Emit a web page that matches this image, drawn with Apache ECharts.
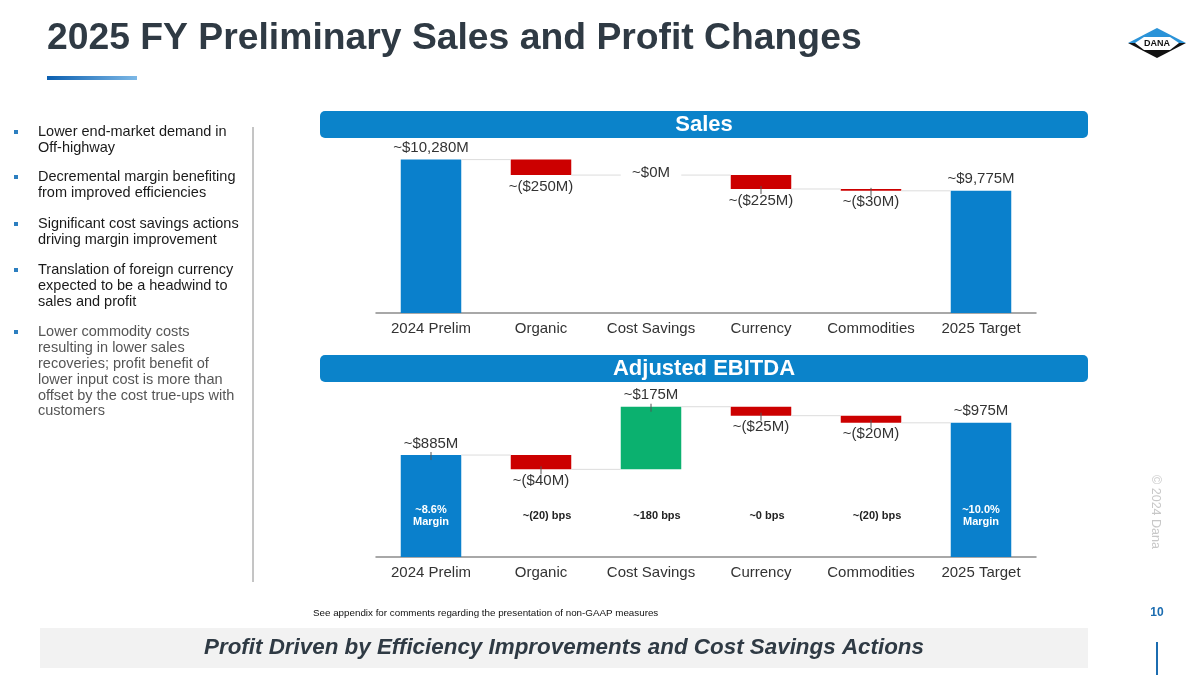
<!DOCTYPE html>
<html>
<head>
<meta charset="utf-8">
<script src="https://cdn.jsdelivr.net/npm/echarts@6/dist/echarts.min.js"></script>
<style>
  html, body { margin: 0; padding: 0; background: #fff; }
  #main { width: 1200px; height: 675px; }
</style>
</head>
<body>
<div id="main"></div>
<script>
const FONT = '"Liberation Sans", Arial, sans-serif';

const categories = ['2024 Prelim', 'Organic', 'Cost Savings', 'Currency', 'Commodities', '2025 Target'];

// first and last are totals, the rest are changes
const salesSteps = [10280, -250, 0, -225, -30, 9775];
const salesLabels = ['~$10,280M', '~($250M)', '~$0M', '~($225M)', '~($30M)', '~$9,775M'];
const salesTicks = [0, 0, 0, 1, 1, 0];

const ebitdaSteps = [885, -40, 175, -25, -20, 975];
const ebitdaLabels = ['~$885M', '~($40M)', '~$175M', '~($25M)', '~($20M)', '~$975M'];
const ebitdaNotes = ['~8.6%\nMargin', '~(20) bps', '~180 bps', '~0 bps', '~(20) bps', '~10.0%\nMargin'];
const ebitdaTicks = [1, 1, 1, 1, 1, 0];

const bullets = [
  'Lower end-market demand in\nOff-highway',
  'Decremental margin benefiting\nfrom improved efficiencies',
  'Significant cost savings actions\ndriving margin improvement',
  'Translation of foreign currency\nexpected to be a headwind to\nsales and profit',
  'Lower commodity costs\nresulting in lower sales\nrecoveries; profit benefit of\nlower input cost is more than\noffset by the cost true-ups with\ncustomers'
];

const BLUE = '#0a80cc';
const RED = '#cc0000';
const GREEN = '#0bb16f';

function waterfall(steps) {
  const n = steps.length;
  const base = [], size = [], level = [], kind = [];
  let run = 0;
  steps.forEach((v, i) => {
    if (i === 0 || i === n - 1) {
      base.push(0); size.push(v); run = v; kind.push('total');
    } else {
      const after = run + v;
      base.push(Math.min(run, after));
      size.push(Math.abs(v));
      run = after;
      kind.push(v > 0 ? 'up' : (v < 0 ? 'down' : 'zero'));
    }
    level.push(run);
  });
  return { base, size, level, kind };
}

function buildSeries(idx, steps, labels, ticks, notes) {
  const w = waterfall(steps);
  const colorOf = { total: BLUE, up: GREEN, down: RED, zero: 'transparent' };
  const visible = w.size.map((v, i) => {
    const k = w.kind[i];
    const lab = { show: true, formatter: labels[i] };
    if (k === 'down') lab.position = 'bottom';
    else if (k === 'zero') {
      lab.position = 'inside';
      lab.backgroundColor = '#fff';
      lab.padding = [0, 4];
      lab.offset = [0, -2];
    } else lab.position = 'top';
    return { value: v, itemStyle: { color: colorOf[k] }, label: lab };
  });
  return [
    {
      type: 'bar', stack: 'w' + idx, xAxisIndex: idx, yAxisIndex: idx,
      barWidth: '55%', silent: true, z: 1,
      itemStyle: { color: 'transparent' },
      data: w.base
    },
    {
      type: 'bar', stack: 'w' + idx, xAxisIndex: idx, yAxisIndex: idx,
      barWidth: '55%', z: 2,
      label: { color: '#333', fontSize: 15, fontFamily: FONT, distance: 4 },
      data: visible
    },
    {
      type: 'custom', xAxisIndex: idx, yAxisIndex: idx, z: 3, silent: true,
      data: categories.map((c, i) => [i, w.level[i]]),
      renderItem: function (params, api) {
        const i = params.dataIndex;
        const bw = api.size([1, 0])[0];
        const hw = bw * 0.55 / 2;
        const p = api.coord([i, w.level[i]]);
        const children = [];
        if (i < categories.length - 1) {
          children.push({
            type: 'line',
            shape: { x1: p[0] + hw, y1: p[1], x2: p[0] + bw - hw, y2: p[1] },
            style: { stroke: '#dcdcdc', lineWidth: 1 }
          });
        }
        if (ticks[i]) {
          children.push({
            type: 'line',
            shape: { x1: p[0], y1: p[1] - 3, x2: p[0], y2: p[1] + 5 },
            style: { stroke: '#555', lineWidth: 1 }
          });
        }
        if (notes) {
          const bottom = params.coordSys.y + params.coordSys.height;
          const inBar = w.kind[i] === 'total';
          children.push({
            type: 'text',
            x: p[0] + (inBar ? 0 : 6),
            y: bottom - 41,
            style: {
              text: notes[i],
              fill: inBar ? '#fff' : '#222',
              font: 'bold 11px ' + FONT,
              textAlign: 'center',
              textVerticalAlign: 'middle',
              lineHeight: 12
            }
          });
        }
        return { type: 'group', children: children };
      }
    }
  ];
}

const chart = echarts.init(document.getElementById('main'));

const axisCommon = {
  type: 'category',
  data: categories,
  axisTick: { show: false },
  axisLine: { lineStyle: { color: '#8c8c8c', width: 1.5 } },
  axisLabel: { color: '#333', fontSize: 15, fontFamily: FONT, margin: 8, interval: 0 }
};

const graphic = [];
// title
graphic.push({ type: 'text', x: 47, y: 39, style: { text: '2025 FY Preliminary Sales and Profit Changes', font: 'bold 37.3px ' + FONT, fill: '#2f3a44', textVerticalAlign: 'middle' } });
graphic.push({
  type: 'rect', shape: { x: 47, y: 76, width: 90, height: 4 },
  style: { fill: new echarts.graphic.LinearGradient(0, 0, 1, 0, [{ offset: 0, color: '#0b5fb0' }, { offset: 1, color: '#7db8e6' }]) }
});
// logo
graphic.push({ type: 'polygon', shape: { points: [[1128, 43], [1157, 28], [1186, 43]] }, style: { fill: '#2b93d8' } });
graphic.push({ type: 'polygon', shape: { points: [[1128, 43], [1157, 58], [1186, 43]] }, style: { fill: '#111' } });
graphic.push({ type: 'polygon', shape: { points: [[1135, 43], [1144, 37], [1170, 37], [1179, 43], [1170, 50], [1144, 50]] }, style: { fill: '#fff' } });
graphic.push({ type: 'text', x: 1157, y: 44, style: { text: 'DANA', font: 'bold 9px ' + FONT, fill: '#111', textAlign: 'center', textVerticalAlign: 'middle' } });
// bullets
const bulletTops = [124, 169, 216, 262, 324];
bullets.forEach((b, i) => {
  graphic.push({ type: 'rect', shape: { x: 14, y: bulletTops[i] + 6, width: 4, height: 4 }, style: { fill: '#2c7fc0' } });
  graphic.push({ type: 'text', x: 38, y: bulletTops[i], style: { text: b, font: '14.5px ' + FONT, fill: i === 4 ? '#555' : '#1a1a1a', lineHeight: 15.9, textVerticalAlign: 'top' } });
});
graphic.push({ type: 'line', shape: { x1: 253, y1: 127, x2: 253, y2: 582 }, style: { stroke: '#8a8a8a', lineWidth: 1 } });
// section headers
[['Sales', 111], ['Adjusted EBITDA', 355]].forEach(h => {
  graphic.push({ type: 'rect', shape: { x: 320, y: h[1], width: 768, height: 27, r: 5 }, style: { fill: '#0b83ca' } });
  graphic.push({ type: 'text', x: 704, y: h[1] + 14, style: { text: h[0], font: 'bold 22px ' + FONT, fill: '#fff', textAlign: 'center', textVerticalAlign: 'middle' } });
});
// footer
graphic.push({ type: 'text', x: 313, y: 613, style: { text: 'See appendix for comments regarding the presentation of non-GAAP measures', font: '9.8px ' + FONT, fill: '#111', textVerticalAlign: 'middle' } });
graphic.push({ type: 'text', x: 1157, y: 613, style: { text: '10', font: 'bold 12px ' + FONT, fill: '#1b6cb0', textAlign: 'center', textVerticalAlign: 'middle' } });
graphic.push({ type: 'rect', shape: { x: 40, y: 628, width: 1048, height: 40 }, style: { fill: '#f2f2f2' } });
graphic.push({ type: 'text', x: 564, y: 648, style: { text: 'Profit Driven by Efficiency Improvements and Cost Savings Actions', font: 'italic bold 22.4px ' + FONT, fill: '#2f3a44', textAlign: 'center', textVerticalAlign: 'middle' } });
graphic.push({ type: 'rect', shape: { x: 1156, y: 642, width: 2, height: 33 }, style: { fill: '#1b6cb0' } });
graphic.push({ type: 'text', x: 1155, y: 512, rotation: -Math.PI / 2, style: { text: '© 2024 Dana', font: '12.5px ' + FONT, fill: '#c8c8c8', textAlign: 'center', textVerticalAlign: 'middle' } });

chart.setOption({
  animation: false,
  backgroundColor: '#fff',
  textStyle: { fontFamily: FONT },
  grid: [
    { left: 376, right: 164, top: 146, bottom: 362 },
    { left: 376, right: 164, top: 396, bottom: 118 }
  ],
  xAxis: [
    Object.assign({ gridIndex: 0 }, axisCommon),
    Object.assign({ gridIndex: 1 }, axisCommon)
  ],
  yAxis: [
    { type: 'value', gridIndex: 0, min: 7800, max: 10500, show: false },
    { type: 'value', gridIndex: 1, min: 600, max: 1050, show: false }
  ],
  series: buildSeries(0, salesSteps, salesLabels, salesTicks, null)
    .concat(buildSeries(1, ebitdaSteps, ebitdaLabels, ebitdaTicks, ebitdaNotes)),
  graphic: graphic
});
</script>
</body>
</html>
